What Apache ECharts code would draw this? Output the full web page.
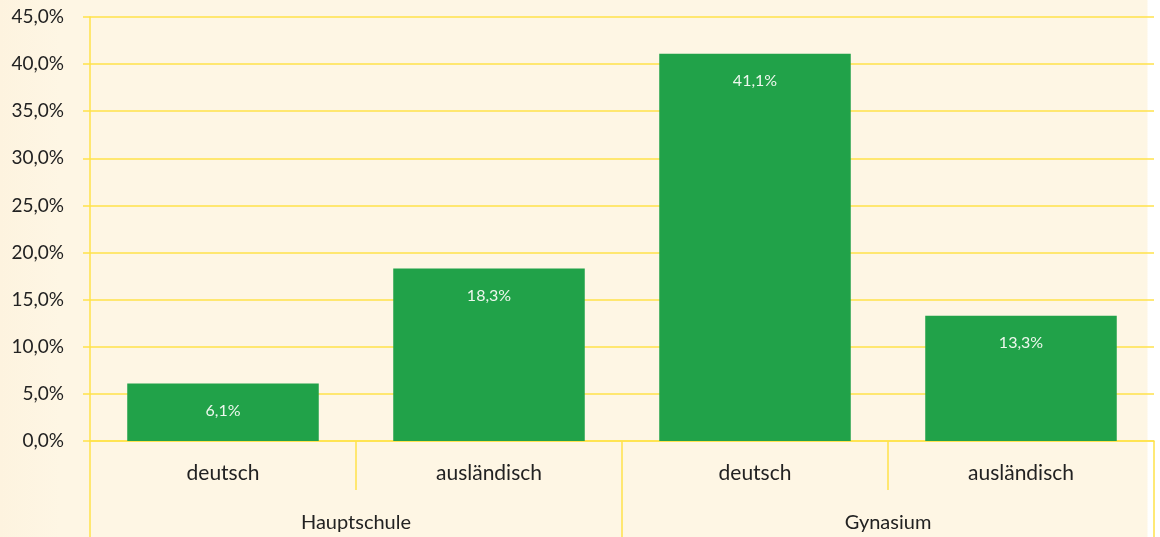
<!DOCTYPE html>
<html>
<head>
<meta charset="utf-8">
<script src="https://cdn.jsdelivr.net/npm/echarts@6/dist/echarts.min.js"></script>
<style>
  html, body { margin: 0; padding: 0; }
  body { background: linear-gradient(to right, #fdf3df 0px, #fef6e4 60px, #fef6e4 1147px, #ffffff 1148px); }
  #chart { width: 1160px; height: 537px; }
</style>
</head>
<body>
<div id="chart"></div>
<script>
// values
const herkunft = ['deutsch', 'ausländisch', 'deutsch', 'ausländisch'];
const schulart = ['Hauptschule', 'Gynasium'];
const anteil = [6.1, 18.3, 41.1, 13.3];
const yTicks = [0, 5, 10, 15, 20, 25, 30, 35, 40, 45];

const yellow = '#ffe24a';
const fmt = v => v.toFixed(1).replace('.', ',') + '%';

const chart = echarts.init(document.getElementById('chart'));
chart.setOption({
    backgroundColor: 'transparent',
    animation: false,
    textStyle: { fontFamily: 'Lato' },
    grid: { left: 90, right: 6, top: 17, bottom: 96 },
    xAxis: [
        {
            type: 'category',
            data: herkunft,
            axisLine: { lineStyle: { color: yellow, width: 1.5 } },
            axisTick: { show: true, interval: 0, length: 49, lineStyle: { color: yellow, width: 1.5 } },
            axisLabel: { color: '#222', fontSize: 21, margin: 22, interval: 0 }
        },
        {
            type: 'category',
            position: 'bottom',
            data: schulart,
            axisLine: { show: false },
            axisTick: { show: true, interval: 0, length: 120, lineStyle: { color: yellow, width: 1.5 } },
            axisLabel: { color: '#222', fontSize: 20, margin: 72, interval: 0 }
        }
    ],
    yAxis: {
        type: 'value',
        min: yTicks[0],
        max: yTicks[yTicks.length - 1],
        interval: 5,
        axisLine: { show: true, lineStyle: { color: yellow, width: 1.5 } },
        axisTick: { show: true, length: 7, lineStyle: { color: yellow, width: 1.5 } },
        splitLine: { lineStyle: { color: yellow, width: 1.5 } },
        axisLabel: { color: '#222', fontSize: 19, margin: 26, formatter: v => fmt(v) }
    },
    series: [
        {
            type: 'bar',
            xAxisIndex: 0,
            data: anteil,
            barCategoryGap: '28%',
            itemStyle: { color: '#21a249' },
            label: {
                show: true,
                position: 'insideTop',
                distance: 19,
                color: '#eef7ee',
                fontSize: 16,
                formatter: p => fmt(p.value)
            }
        }
    ]
});
</script>
</body>
</html>
